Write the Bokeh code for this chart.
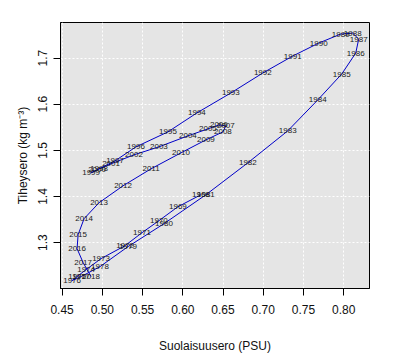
from bokeh.plotting import figure
from bokeh.models import Range1d, FixedTicker, ColumnDataSource
from bokeh.core.properties import value
from bokeh.embed import file_html
from bokeh.resources import INLINE

years = list(range(1968, 2019))
salinity = [0.6225, 0.5939, 0.5703, 0.5493, 0.5282, 0.4984, 0.4798, 0.4686, 0.4624, 0.4736,
            0.4971, 0.5319, 0.5766, 0.6287, 0.6808, 0.7304, 0.7677, 0.7975, 0.8149, 0.8186,
            0.8111, 0.7962, 0.7689, 0.7366, 0.6994, 0.6597, 0.6175, 0.5815, 0.5418, 0.5158,
            0.4959, 0.4860, 0.4934, 0.5108, 0.5393, 0.5703, 0.6063, 0.6312, 0.6448, 0.6535,
            0.6498, 0.6287, 0.5977, 0.5605, 0.5257, 0.4959, 0.4773, 0.4699, 0.4686, 0.4761,
            0.4860]
density = [1.4038, 1.3778, 1.3476, 1.3216, 1.2935, 1.2654, 1.2416, 1.2265, 1.2178, 1.2265,
           1.2481, 1.2914, 1.3411, 1.4038, 1.4730, 1.5422, 1.6092, 1.6654, 1.7108, 1.7411,
           1.7541, 1.7519, 1.7324, 1.7043, 1.6676, 1.6243, 1.5811, 1.5400, 1.5076, 1.4773,
           1.4600, 1.4514, 1.4578, 1.4708, 1.4903, 1.5076, 1.5314, 1.5465, 1.5551, 1.5530,
           1.5400, 1.5227, 1.4946, 1.4600, 1.4232, 1.3865, 1.3519, 1.3173, 1.2870, 1.2568,
           1.2265]
x_ticks = [0.45, 0.50, 0.55, 0.60, 0.65, 0.70, 0.75, 0.80]
y_ticks = [1.3, 1.4, 1.5, 1.6, 1.7]
x_title = "Suolaisuusero (PSU)"
y_title = "Tiheysero (kg m\u207b\u00b3)"

src = ColumnDataSource(dict(x=salinity, y=density, label=[str(y) for y in years]))

FONT = "Liberation Sans"

p = figure(width=392, height=355, output_backend="svg", toolbar_location=None,
           x_range=Range1d(0.448, 0.832), y_range=Range1d(1.2007, 1.777),
           min_border_left=60, min_border_right=23, min_border_top=22, min_border_bottom=66)

p.background_fill_color = "#E5E5E5"
p.border_fill_color = "white"
p.outline_line_color = "black"
p.outline_line_width = 1

p.line("x", "y", source=src, line_color="#0000C8", line_width=1)
p.text("x", "y", text="label", source=src, text_align="center", text_baseline="middle",
       text_font=value(FONT), text_font_size="8px", text_color="#1a1a1a")

p.xaxis.ticker = FixedTicker(ticks=x_ticks)
p.yaxis.ticker = FixedTicker(ticks=y_ticks)
p.xaxis.major_label_overrides = {t: f"{t:.2f}" for t in x_ticks}
p.yaxis.major_label_overrides = {t: f"{t:.1f}" for t in y_ticks}

for ax in (p.xaxis[0], p.yaxis[0]):
    ax.axis_line_color = "black"
    ax.major_tick_line_color = "black"
    ax.minor_tick_line_color = None
    ax.major_tick_out = 7
    ax.major_tick_in = 0
    ax.major_label_text_font = FONT
    ax.major_label_text_font_size = "12px"
    ax.major_label_text_color = "#111111"
    ax.axis_label_text_font = FONT
    ax.axis_label_text_font_size = "12px"
    ax.axis_label_text_font_style = "normal"
    ax.axis_label_text_color = "#111111"

p.xaxis.axis_label = x_title
p.yaxis.axis_label = y_title
p.xaxis.major_label_standoff = 9
p.xaxis.axis_label_standoff = 22
p.yaxis.major_label_orientation = "parallel"
p.yaxis.major_label_standoff = 6
p.yaxis.axis_label_standoff = 6

for g in (p.xgrid[0], p.ygrid[0]):
    g.grid_line_color = "white"
    g.grid_line_dash = "2 2"
    g.grid_line_width = 1

open("out.html", "w").write(file_html(p, INLINE))
